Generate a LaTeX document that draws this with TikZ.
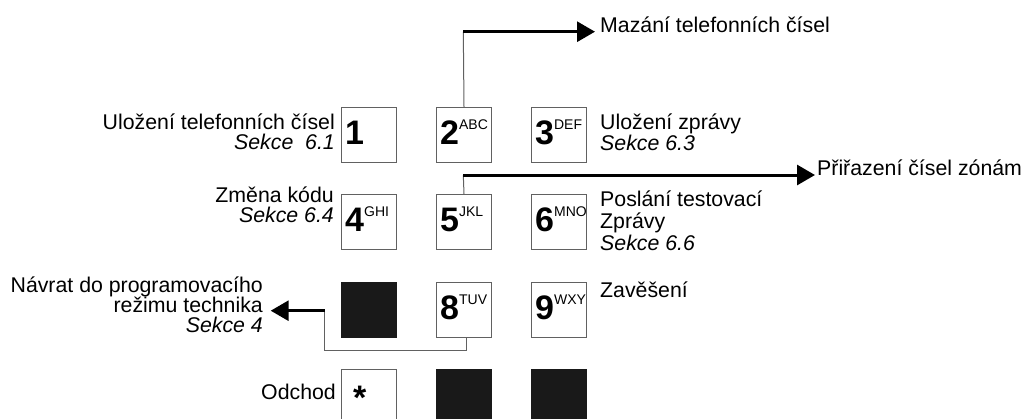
\documentclass[tikz,border=0pt]{standalone}
\usepackage{fontspec}
\setmainfont{Liberation Sans}
\usetikzlibrary{arrows.meta}
\definecolor{edgegray}{gray}{0.38}
\definecolor{keyfill}{gray}{0.1}
\newcommand\keyletters[1]{\raisebox{14.2pt}{\fontsize{14}{14}\selectfont\mdseries #1}}
\begin{document}
\begin{tikzpicture}[x=1pt,y=-1pt,
  key/.style={draw=edgegray, line width=1pt, minimum width=55pt, minimum height=55pt, inner sep=0pt, anchor=north west},
  blank/.style={fill=keyfill, draw=keyfill, line width=0.5pt, minimum width=55pt, minimum height=55pt, inner sep=0pt, anchor=north west},
  digit/.style={anchor=base west, inner sep=0pt, font=\fontsize{34}{34}\selectfont\bfseries},
  lbl/.style={font=\fontsize{21.3}{20}\selectfont, inner sep=0pt},
  thinline/.style={draw=edgegray, line width=1pt},
  thickarrow/.style={draw=black, line width=3pt, -{Triangle[length=18pt,width=20pt]}},
]
\clip (0,0) rectangle (1023,418);
\fill[white] (0,0) rectangle (1023,418);

% keys
\node[key] (k1) at (341,107) {};
\node[key] (k2) at (436,107) {};
\node[key] (k3) at (531,107) {};
\node[key] (k4) at (341,194) {};
\node[key] (k5) at (436,194) {};
\node[key] (k6) at (531,194) {};
\node[blank] (k7) at (341,282) {};
\node[key] (k8) at (436,282) {};
\node[key] (k9) at (531,282) {};
\node[key] (kstar) at (341,369) {};
\node[blank] (k0) at (436,369) {};
\node[blank] (khash) at (531,369) {};

% key faces
\node[digit] (d1) at ([shift={(4,37)}]k1.north west) {1};
\node[digit] (d2) at ([shift={(4,37)}]k2.north west) {2\keyletters{ABC}};
\node[digit] (d3) at ([shift={(4,37)}]k3.north west) {3\keyletters{DEF}};
\node[digit] (d4) at ([shift={(4,37)}]k4.north west) {4\keyletters{GHI}};
\node[digit] (d5) at ([shift={(4,37)}]k5.north west) {5\keyletters{JKL}};
\node[digit] (d6) at ([shift={(4,37)}]k6.north west) {6\keyletters{MNO}};
\node[digit] (d8) at ([shift={(4,37)}]k8.north west) {8\keyletters{TUV}};
\node[digit] (d9) at ([shift={(4,37)}]k9.north west) {9\keyletters{WXY}};
\node[digit] (dstar) at ([shift={(12,40)}]kstar.north west) {*};

% labels (base anchor = baseline of the last line)
\node[lbl, align=right, anchor=base east] (l1) at (335,149.5) {Uložení telefonních čísel\\\textit{Sekce\ \ 6.1}};
\node[lbl, align=left, anchor=base west] (l3) at (600,150) {Uložení zprávy\\[1pt]\textit{Sekce 6.3}};
\node[lbl, align=right, anchor=base east] (l4) at (334,222.5) {Změna kódu\\\textit{Sekce 6.4}};
\node[lbl, align=left, anchor=base west] (l6) at (600,250) {Poslání testovací\\[2pt]Zprávy\\[2pt]\textit{Sekce 6.6}};
\node[lbl, align=left, anchor=base west] (l9) at (600,297) {Zavěšení};
\node[lbl, align=right, anchor=base east] (l7) at (263,332) {Návrat do programovacího\\režimu technika\\\textit{Sekce 4}};
\node[lbl, anchor=base east] (lstar) at (336,399) {Odchod};
\node[lbl, anchor=base west] (lm) at (600,32) {Mazání telefonních čísel};
\node[lbl, anchor=base west] (lp) at (817,175) {Přiřazení čísel zónám};

% connectors
\coordinate (m1) at (463.3,31.7);
\coordinate (mtip) at (595,31.7);
\draw[thinline] (k2.north) -- (m1);
\draw[thickarrow] (m1) -- (mtip);

\coordinate (p1) at (463.3,175);
\coordinate (ptip) at (815,175);
\draw[thinline] (k5.north) -- (p1);
\draw[thickarrow] (p1) -- (ptip);

\coordinate (n0) at (466,337.5);
\coordinate (n1) at (466,350);
\coordinate (n2) at (324,350);
\coordinate (n3) at (324,310.7);
\coordinate (ntip) at (270.7,310.7);
\draw[thinline] (n0) -- (n1) -- (n2) -- (n3);
\draw[thickarrow] ([xshift=0.5pt]n3) -- (ntip);
\end{tikzpicture}
\end{document}
